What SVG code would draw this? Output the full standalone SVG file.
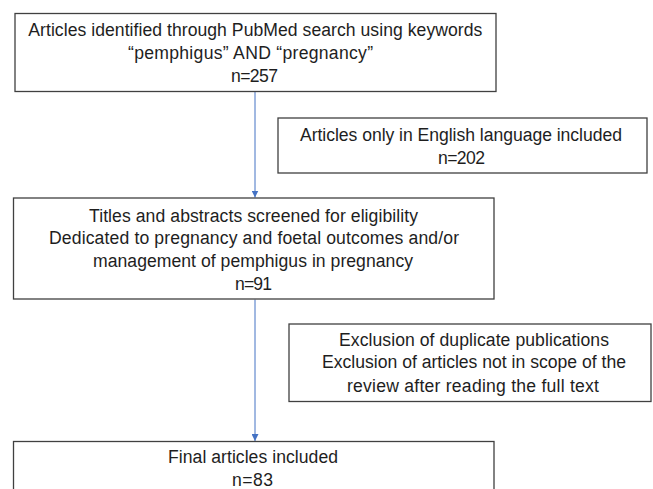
<svg xmlns="http://www.w3.org/2000/svg" width="653" height="489" viewBox="0 0 653 489">
<style>
.box{fill:#ffffff;stroke:#404040;stroke-width:1.3}
.t{font-family:"Liberation Sans",Arial,sans-serif;font-size:17.6px;fill:#1e1e1e;text-anchor:middle}
.conn{stroke:#4472C4;stroke-width:1;fill:none}
</style>
<defs>
<marker id="ah" markerWidth="8" markerHeight="7" refX="7" refY="3.5" orient="auto" markerUnits="userSpaceOnUse">
<path d="M0,0 L7,3.5 L0,7 Z" fill="#4472C4"/>
</marker>
</defs>
<rect width="653" height="489" fill="#ffffff"/>
<g id="connectors">
<line class="conn" x1="255" y1="91.5" x2="255" y2="197.5" marker-end="url(#ah)"/>
<line class="conn" x1="255" y1="299.5" x2="255" y2="441" marker-end="url(#ah)"/>
</g>
<g id="n1">
<rect class="box" x="15" y="13.5" width="481" height="78"/>
<text class="t" x="255.3" y="36" textLength="454" lengthAdjust="spacing">Articles identified through PubMed search using keywords</text>
<text class="t" x="250.5" y="59" textLength="245" lengthAdjust="spacing">“pemphigus” AND “pregnancy”</text>
<text class="t" x="254.5" y="82" textLength="47" lengthAdjust="spacing">n=257</text>
</g>
<g id="n2">
<rect class="box" x="278" y="118" width="369" height="55"/>
<text class="t" x="461" y="141" textLength="322" lengthAdjust="spacing">Articles only in English language included</text>
<text class="t" x="461.5" y="163.5" textLength="47" lengthAdjust="spacing">n=202</text>
</g>
<g id="n3">
<rect class="box" x="13.5" y="198" width="480.5" height="101"/>
<text class="t" x="253.5" y="221.7" textLength="329" lengthAdjust="spacing">Titles and abstracts screened for eligibility</text>
<text class="t" x="254" y="244.4" textLength="410" lengthAdjust="spacing">Dedicated to pregnancy and foetal outcomes and/or</text>
<text class="t" x="253" y="267" textLength="320" lengthAdjust="spacing">management of pemphigus in pregnancy</text>
<text class="t" x="253.5" y="289.5" textLength="37" lengthAdjust="spacing">n=91</text>
</g>
<g id="n4">
<rect class="box" x="289" y="324" width="362" height="77.5"/>
<text class="t" x="474" y="345.5" textLength="270" lengthAdjust="spacing">Exclusion of duplicate publications</text>
<text class="t" x="474" y="368.3" textLength="304" lengthAdjust="spacing">Exclusion of articles not in scope of the</text>
<text class="t" x="473" y="391.5" textLength="252" lengthAdjust="spacing">review after reading the full text</text>
</g>
<g id="n5">
<rect class="box" x="13.5" y="441.5" width="480.5" height="60"/>
<text class="t" x="253" y="463.3" textLength="170" lengthAdjust="spacing">Final articles included</text>
<text class="t" x="252.5" y="486" textLength="41" lengthAdjust="spacing">n=83</text>
</g>
</svg>
